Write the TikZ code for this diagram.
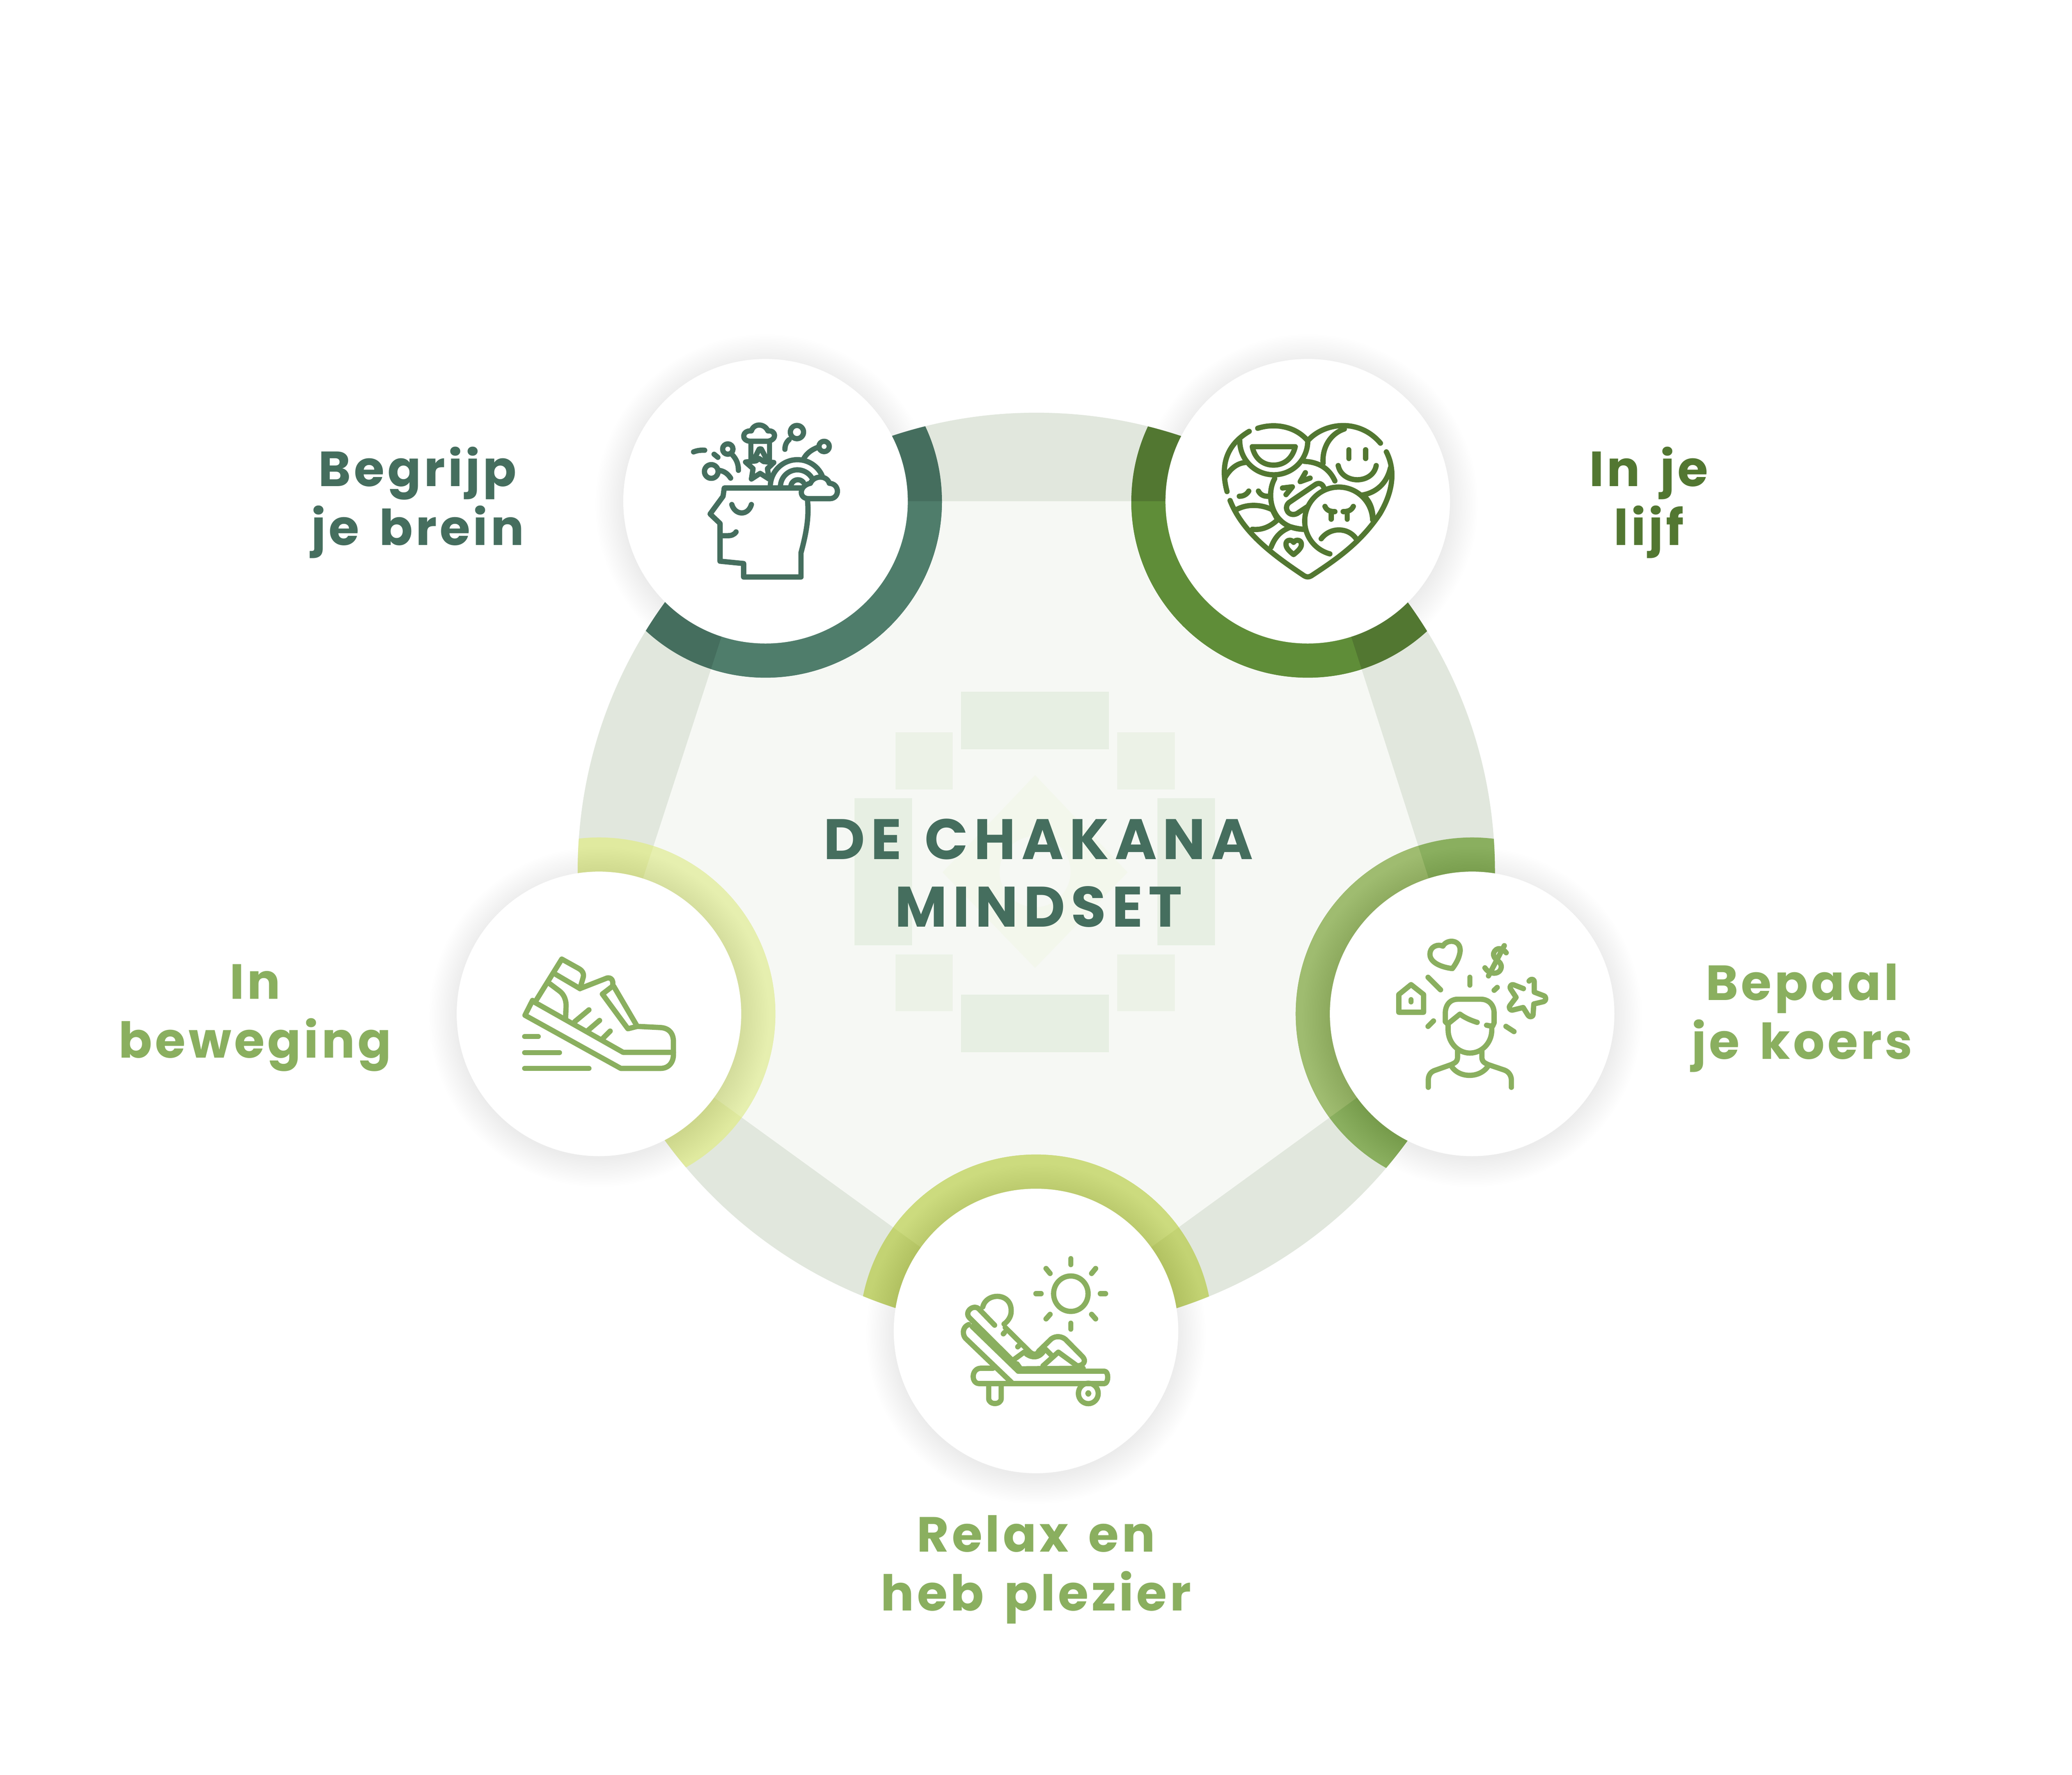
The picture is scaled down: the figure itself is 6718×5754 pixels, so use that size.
\documentclass[tikz,border=0pt]{standalone}
\usepackage{fontspec}
\usepackage{xcolor}
\usepackage{tikz}
\usetikzlibrary{positioning}
\newfontfamily\titlefont[LetterSpace=10,WordSpace=1.3]{Poppins}
\newfontfamily\labelfont[LetterSpace=6,WordSpace=1.5]{Poppins}
\definecolor{band}{HTML}{E1E7DD}
\definecolor{inner}{HTML}{F6F8F4}
\definecolor{brein}{HTML}{456E5E}
\definecolor{breinlight}{HTML}{4F7D6B}
\definecolor{lijf}{HTML}{527731}
\definecolor{lijflight}{HTML}{5F8D38}
\definecolor{koers}{HTML}{8AAF5F}
\definecolor{koerslight}{HTML}{9FBC70}
\definecolor{relaxdark}{HTML}{C3D373}
\definecolor{relaxlight}{HTML}{CCDB7E}
\definecolor{bewegdark}{HTML}{E0EA9F}
\definecolor{beweglight}{HTML}{E6EFAF}
\definecolor{blocka}{HTML}{E7EFE3}
\definecolor{blockb}{HTML}{ECF2E7}
\definecolor{blockc}{HTML}{F3F7EC}
\newcommand{\softshadow}[1]{\foreach \r in {0,5,...,90}{\fill[black,opacity=0.005] ([yshift=-0.1cm]#1) circle[radius=461+\r];}}
\newcommand{\ringpart}[3]{\begin{scope}
\clip (c0) circle[radius=1487];
\fill[#2] (#1) circle[radius=572];
\clip (c1) -- (c2) -- (c3) -- (c4) -- (c5) -- cycle;
\fill[#3] (#1) circle[radius=572];
\end{scope}}
\begin{document}
\begin{tikzpicture}[x=0.01cm,y=-0.01cm,
    white_node/.style={circle,fill=white,minimum size=9.22cm,inner sep=0pt},
    main_text/.style={font=\titlefont\bfseries\fontsize{52.6}{62.3}\selectfont,align=center,text=brein},
    side_text/.style={font=\labelfont\bfseries\fontsize{45.5}{54.3}\selectfont,align=center},
    icon/.style={line width=0.17cm,line cap=round,line join=round},
    zoomed/.style={scale=0.7653}]
\fill[white,use as bounding box] (0,0) rectangle (6718,5754);
\coordinate (c0) at (3360,2825);
\coordinate (c1) at (2482,1625);
\coordinate (c2) at (4240,1625);
\coordinate (c3) at (4773,3287);
\coordinate (c4) at (3359,4315);
\coordinate (c5) at (1942,3287);
% big ring and inner pentagon
\softshadow{c1}
\softshadow{c2}
\fill[band] (c0) circle[radius=1487];
\fill[inner] (c1) -- (c2) -- (c3) -- (c4) -- (c5) -- cycle;
% chakana in the middle
\fill[blocka] (3116,2243) rectangle (3595,2429);
\fill[blocka] (3116,3225) rectangle (3595,3411);
\fill[blocka] (2770,2588) rectangle (2957,3065);
\fill[blocka] (3752,2588) rectangle (3939,3065);
\fill[blockb] (2903,2374) rectangle (3089,2560);
\fill[blockb] (3622,2374) rectangle (3809,2560);
\fill[blockb] (2903,3094) rectangle (3089,3279);
\fill[blockb] (3622,3094) rectangle (3809,3279);
\fill[blockc] (3356,2513) -- (3656,2828) -- (3356,3138) -- (3056,2828) -- cycle;
\fill[inner] (3356,2826) circle[radius=115];
% coloured rings
\ringpart{c1}{brein}{breinlight}
\ringpart{c2}{lijf}{lijflight}
\ringpart{c3}{koers}{koerslight}
\ringpart{c4}{relaxdark}{relaxlight}
\ringpart{c5}{bewegdark}{beweglight}
\softshadow{c3}
\softshadow{c4}
\softshadow{c5}
\node[white_node] (n1) at (c1) {};
\node[white_node] (n2) at (c2) {};
\node[white_node] (n3) at (c3) {};
\node[white_node] (n4) at (c4) {};
\node[white_node] (n5) at (c5) {};
% brein icon
\begin{scope}[shift={(2000,1100)},zoomed,icon,draw=brein]
\draw (808,685) .. controls (815,760) and (800,830) .. (780,905) -- (780,1007) -- (537,1007) -- (537,950) -- (437,940) -- (437,780) -- (395,740) -- (450,665) -- (455,630) -- (780,630);
\draw (487,700) .. controls (500,745) and (555,750) .. (570,700);
\draw (437,832) -- (470,832) .. controls (485,832) and (497,828) .. (505,816);
\draw (812,675) -- (905,675) .. controls (945,672) and (945,612) .. (900,610) .. controls (890,575) and (835,575) .. (820,610) .. controls (770,620) and (770,675) .. (812,675) -- cycle;
\draw (650,625) arc[start angle=180,end angle=335,radius=115];
\draw (693,625) arc[start angle=180,end angle=325,radius=72];
\draw (737,625) arc[start angle=180,end angle=320,radius=30];
\draw (400,560) circle[radius=29];
\draw (432,555) .. controls (455,558) and (470,570) .. (482,588);
\draw (470,465) circle[radius=22];
\draw (490,490) .. controls (508,510) and (515,530) .. (515,555);
\draw (763,393) circle[radius=28];
\draw (730,425) .. controls (718,435) and (712,450) .. (712,466);
\draw (878,454) circle[radius=22];
\draw (850,458) .. controls (825,468) and (805,482) .. (792,505);
\draw (325,477) .. controls (340,471) and (355,469) .. (372,470);
\draw (412,487) -- (428,500);
\draw (565,432) -- (640,432) .. controls (680,425) and (675,385) .. (640,388) .. controls (625,355) and (580,355) .. (570,388) .. controls (530,385) and (525,430) .. (565,432) -- cycle;
\draw (568,440) -- (568,510);
\draw (647,440) -- (647,510);
\draw (583,505) -- (603,465) -- (612,465) -- (633,505);
\draw (603,505) -- (622,518) -- (665,522) -- (638,548) -- (645,592) -- (607,568) -- (570,592) -- (577,548) -- (545,520) -- (590,515) -- cycle;
\end{scope}
% lijf icon
\begin{scope}[shift={(3800,1100)},zoomed,icon,draw=lijf]
\draw (363,377) .. controls (430,355) and (520,365) .. (575,430) .. controls (640,355) and (790,330) .. (883,440);
\draw (908,477) .. controls (945,550) and (940,640) .. (880,740) .. controls (800,860) and (700,930) .. (590,1002) .. controls (580,1008) and (570,1008) .. (560,1002) .. controls (430,915) and (300,820) .. (246,683);
\draw (233,645) .. controls (205,540) and (225,450) .. (327,390);
\draw (287,430) arc[start angle=180,end angle=0,radius=144];
\draw (340,455) -- (522,455) .. controls (510,505) and (475,533) .. (430,533) .. controls (385,533) and (350,505) .. (340,455) -- cycle;
\draw (730,380) .. controls (670,400) and (635,460) .. (640,525);
\draw (925,545) .. controls (910,610) and (865,650) .. (805,660);
\draw (749,468) -- (749,505);
\draw (820,468) -- (820,505);
\draw (704,535) .. controls (720,615) and (850,615) .. (865,535);
\draw (560,517) .. controls (620,520) and (665,545) .. (690,600);
\draw (435,590) .. controls (395,660) and (420,800) .. (555,805);
\draw (565,565) -- (543,603) -- (585,588);
\draw (468,630) -- (510,625) -- (483,658);
\draw (645,635) .. controls (640,610) and (620,605) .. (605,617) -- (495,692) .. controls (470,715) and (495,755) .. (530,738) -- (575,708);
\draw (850,765) arc[start angle=358,end angle=105,radius=144];
\draw (632,845) .. controls (670,795) and (745,795) .. (780,845);
\draw (648,708) .. controls (655,725) and (670,730) .. (690,730);
\draw (768,708) .. controls (760,725) and (745,730) .. (725,730);
\draw (674,735) -- (674,762);
\draw (742,735) -- (742,762);
\draw (285,665) .. controls (305,665) and (318,655) .. (325,643);
\draw (366,643) .. controls (375,660) and (390,665) .. (405,665);
\draw (225,585) .. controls (245,550) and (275,525) .. (310,522);
\draw (272,722) .. controls (320,695) and (380,700) .. (425,722) -- (445,760);
\draw (340,805) .. controls (385,810) and (420,790) .. (447,765);
\draw (420,880) .. controls (435,840) and (460,810) .. (505,795) .. controls (520,800) and (540,803) .. (555,805);
\draw (515,860) .. controls (505,845) and (480,850) .. (483,870) .. controls (483,885) and (500,900) .. (515,912) .. controls (530,900) and (548,885) .. (548,870) .. controls (550,850) and (525,845) .. (515,860) -- cycle;
\draw (815,665) .. controls (840,690) and (850,720) .. (852,760);
\end{scope}
% koers icon
\begin{scope}[shift={(4200,2700)},zoomed,icon,draw=koers]
\draw (625,480) .. controls (640,450) and (700,450) .. (698,500) .. controls (695,530) and (680,555) .. (665,575) .. controls (620,570) and (570,550) .. (570,515) .. controls (570,480) and (605,470) .. (625,480) -- cycle;
\draw (893,508) .. controls (880,490) and (850,480) .. (840,510) .. controls (835,540) and (875,540) .. (872,570) .. controls (868,600) and (825,605) .. (803,572);
\draw (885,478) -- (818,606);
\draw (438,685) -- (490,643) -- (543,685) -- (543,760) -- (438,760) -- cycle;
\draw (490,707) -- (490,716);
\draw (562,612) -- (615,665);
\draw (739,612) -- (739,645);
\draw (855,655) -- (842,667);
\draw (585,797) -- (562,820);
\draw (892,820) -- (926,842);
\draw (990,628) .. controls (1000,615) and (1012,620) .. (1012,632) -- (1012,675) -- (1052,690) .. controls (1065,695) and (1062,712) .. (1052,715) -- (1010,725) -- (1007,770) .. controls (1005,782) and (990,782) .. (985,772) -- (965,740) -- (920,751) .. controls (908,752) and (902,740) .. (910,730) -- (935,697) -- (912,662) .. controls (905,650) and (915,640) .. (925,644) -- (966,660);
\draw (770,803) .. controls (745,795) and (720,785) .. (697,768) -- (645,810) -- (635,800) -- (635,765) .. controls (635,730) and (655,705) .. (688,705) -- (785,705) .. controls (820,705) and (842,730) .. (842,765) -- (842,805) -- (835,820) -- (810,815);
\draw (647,815) -- (647,835) .. controls (647,890) and (690,933) .. (739,933) .. controls (790,933) and (832,890) .. (832,835) -- (832,820);
\draw (687,925) -- (687,950) .. controls (687,970) and (675,975) .. (660,982) -- (595,1005) .. controls (570,1012) and (563,1030) .. (563,1048) -- (563,1078);
\draw (790,925) -- (790,950) .. controls (790,970) and (802,975) .. (817,982) -- (885,1005) .. controls (905,1012) and (915,1030) .. (915,1048) -- (915,1078);
\draw (662,990) .. controls (695,1040) and (780,1040) .. (815,990);
\end{scope}
% relax icon, this crop is squeezed in height
\begin{scope}[shift={(2800,3800)},xscale=0.7653,yscale=0.6378,icon,draw=koers]
\draw (878,618) ellipse[x radius=73,y radius=90];
\draw (878,440) -- (878,470);
\draw (878,768) -- (878,798);
\draw (730,618) -- (752,618);
\draw (1003,618) -- (1025,618);
\draw (773,490) -- (790,515);
\draw (983,490) -- (966,515);
\draw (773,746) -- (790,723);
\draw (983,746) -- (966,723);
\draw (505,685) .. controls (520,610) and (630,610) .. (625,710) .. controls (625,735) and (610,760) .. (595,772);
\draw (555,778) -- (488,695) .. controls (465,670) and (425,710) .. (448,740) -- (645,975);
\draw (445,775) .. controls (415,790) and (420,830) .. (432,845) -- (632,1075);
\draw (460,785) -- (655,1012) -- (1020,1012) .. controls (1040,1012) and (1038,1075) .. (1020,1075) -- (490,1075) .. controls (455,1075) and (455,1000) .. (495,997) -- (548,997);
\draw (530,1085) -- (530,1150) .. controls (530,1185) and (583,1185) .. (583,1150) -- (583,1085);
\draw (952,1125) ellipse[x radius=42,y radius=52];
\draw (952,1125) ellipse[x radius=2,y radius=3];
\draw (600,790) -- (705,915) .. controls (720,930) and (735,930) .. (742,910) -- (795,848) .. controls (815,830) and (840,835) .. (855,850) -- (925,935) .. controls (950,965) and (925,985) .. (905,985) -- (825,915) -- (760,985);
\draw (770,900) -- (795,930);
\draw (640,950) -- (680,915);
\draw (690,925) .. controls (715,945) and (740,945) .. (760,915);
\draw (650,975) -- (665,1000) -- (930,997);
\draw (592,822) -- (597,815);
\draw (653,888) -- (658,882);
\end{scope}
% beweging icon
\begin{scope}[shift={(1500,2700)},zoomed,icon,draw=koers]
\draw (296,710) -- (264,773) -- (670,998) -- (838,998) .. controls (875,998) and (893,970) .. (893,940) -- (893,885) .. controls (893,850) and (875,828) .. (840,825) -- (740,820);
\draw (300,715) -- (680,930) -- (893,930);
\draw (310,712) -- (420,535) -- (492,575) .. controls (510,585) and (515,600) .. (510,615) -- (497,660);
\draw (395,600) -- (497,660) -- (612,615) .. controls (630,612) and (640,625) .. (635,650) -- (592,683) -- (700,830) -- (740,820);
\draw (640,650) -- (735,812);
\draw (370,640) -- (410,670) .. controls (430,685) and (440,710) .. (438,740) -- (436,790);
\draw (475,800) -- (535,750);
\draw (530,838) -- (580,795);
\draw (595,870) -- (625,840);
\draw (263,863) -- (320,863);
\draw (263,931) -- (410,931);
\draw (263,998) -- (535,998);
\end{scope}
% texts
\node[main_text] (title) at (3367,2830) {DE CHAKANA\\MINDSET};
\node[side_text,text=brein] (t1) at (1354,1629) {Begrijp\\je brein};
\node[side_text,text=lijf] (t2) at (5346,1629) {In je\\lijf};
\node[side_text,text=koers] (t3) at (5843,3300) {Bepaal\\je koers};
\node[side_text,text=koers] (t4) at (3359,5088) {Relax en\\heb plezier};
\node[side_text,text=koers] (t5) at (827,3300) {In\\beweging};
\end{tikzpicture}
\end{document}
